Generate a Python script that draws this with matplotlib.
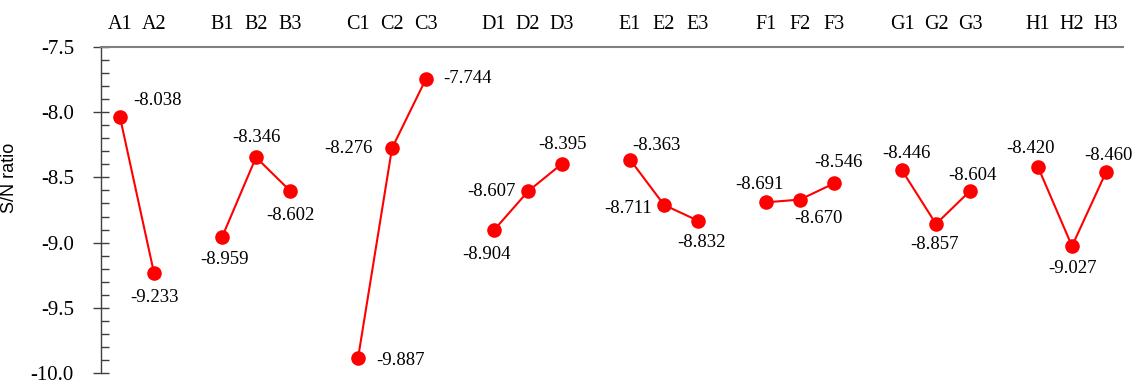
import matplotlib
matplotlib.use("Agg")
import matplotlib.pyplot as plt
from matplotlib.ticker import MultipleLocator, FormatStrFormatter

plt.rcParams["font.family"] = ["Liberation Serif", "DejaVu Serif"]

# Main-effect S/N ratios per factor level
factors = ["A", "B", "C", "D", "E", "F", "G", "H"]
sn_A = [-8.038, -9.233]
sn_B = [-8.959, -8.346, -8.602]
sn_C = [-9.887, -8.276, -7.744]
sn_D = [-8.904, -8.607, -8.395]
sn_E = [-8.363, -8.711, -8.832]
sn_F = [-8.691, -8.670, -8.546]
sn_G = [-8.446, -8.857, -8.604]
sn_H = [-8.420, -9.027, -8.460]
series = [sn_A, sn_B, sn_C, sn_D, sn_E, sn_F, sn_G, sn_H]

# Label placement per point: (dx px, dy px, horizontal alignment)
label_offsets = [
    [(13, 17, "left"), (0, -24, "center")],
    [(2, -22, "center"), (0, 20, "center"), (0, -25, "center")],
    [(18, -2, "left"), (-19, 0, "right"), (17, 0, "left")],
    [(-8, -24, "center"), (-12, 0, "right"), (0, 19, "center")],
    [(26, 14, "center"), (-12, -4, "right"), (3, -22, "center")],
    [(-7, 18, "center"), (18, -19, "center"), (4, 21, "center")],
    [(4, 17, "center"), (-2, -21, "center"), (2, 15, "center")],
    [(-8, 18, "center"), (0, -22, "center"), (2, 17, "center")],
]

fig = plt.figure(figsize=(11.37, 3.85), dpi=100)
ax = fig.add_axes([0.0888, 0.031, 0.8989, 0.847])

red = "#ff0000"
tick_pos = []
tick_lab = []
pos = 0
for name, vals, offs in zip(factors, series, label_offsets):
    xs = list(range(pos, pos + len(vals)))
    ax.plot(xs, vals, color=red, lw=1.5, marker="o", ms=10.5,
            markeredgewidth=0, zorder=3)
    for x, v, (dx, dy, ha) in zip(xs, vals, offs):
        ax.annotate(f"{v:.3f}", (x, v), xytext=(dx, dy),
                    textcoords="offset pixels", ha=ha, va="center",
                    fontsize=13.5)
    for i, x in enumerate(xs):
        tick_pos.append(x)
        tick_lab.append(f"{name}{i + 1}")
    pos += len(vals) + 1

ax.set_xlim(-0.56, 29.5)
ax.set_ylim(-10.0, -7.5)

ax.xaxis.tick_top()
ax.set_xticks(tick_pos)
ax.set_xticklabels(tick_lab, fontsize=14.5)
ax.tick_params(axis="x", length=0, pad=9)

ax.yaxis.set_major_locator(MultipleLocator(0.5))
ax.yaxis.set_minor_locator(MultipleLocator(0.1))
ax.yaxis.set_major_formatter(FormatStrFormatter("%.1f"))
ax.tick_params(axis="y", which="major", direction="inout", length=11,
               width=1.0, labelsize=15, pad=14, color="#404040")
ax.tick_params(axis="y", which="minor", direction="in", length=6,
               width=1.0, color="#404040")

for side in ("right", "bottom"):
    ax.spines[side].set_visible(False)
ax.spines["top"].set_color("#7f7f7f")
ax.spines["top"].set_linewidth(1.5)
ax.spines["left"].set_color("#404040")
ax.spines["left"].set_linewidth(1.0)

ax.set_ylabel("S/N ratio", fontsize=13, family=["Liberation Sans", "DejaVu Sans"])
ax.yaxis.set_label_coords(-0.081, 0.598)

fig.savefig("out.png", dpi=100)
